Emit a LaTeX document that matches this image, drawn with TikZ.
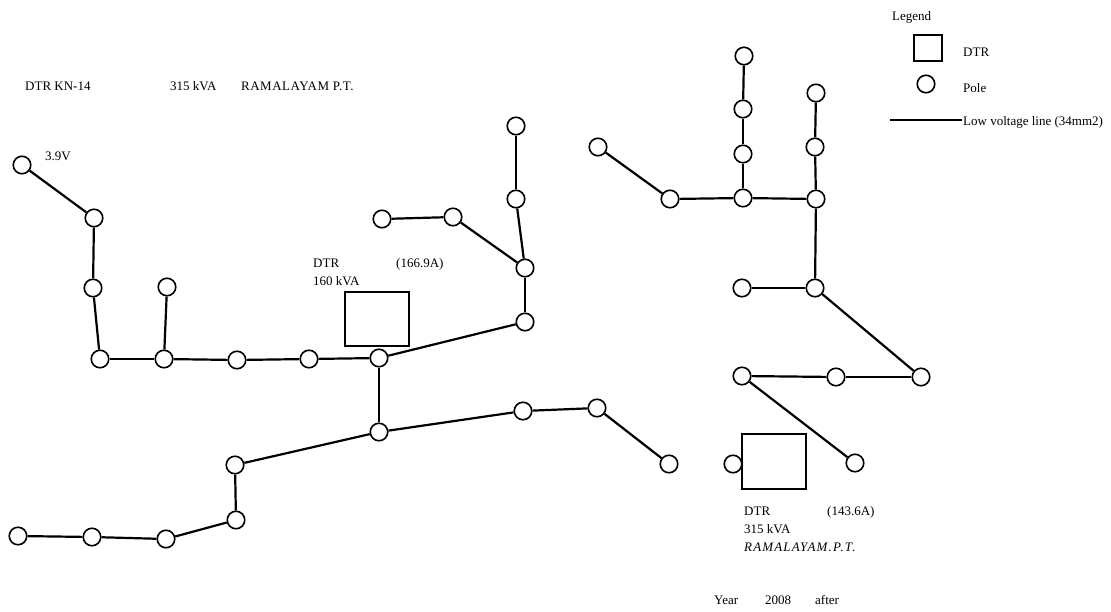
\documentclass[tikz,border=0pt]{standalone}
\usepackage{fontspec}
\setmainfont{Liberation Serif}
\usetikzlibrary{positioning}

\begin{document}
\begin{tikzpicture}[
        x=1pt, y=-1pt,
        pole/.style={
            circle,
            draw=black,
            fill=white,
            line width=1.6pt,
            inner sep=0pt,
            minimum size=17.5pt
        },
        dtrbox/.style={
            rectangle,
            draw=black,
            line width=1.6pt,
            inner sep=0pt,
            minimum width=64pt,
            minimum height=54pt
        },
        label/.style={
            anchor=base west,
            inner sep=0pt,
            font=\fontsize{13}{15}\selectfont
        },
        lvline/.style={line width=2.2pt, draw=black}
    ]
    \useasboundingbox (0,0) rectangle (1111,611);

    % transformers
    \node (dtrA) [dtrbox] at (377,319) {};
    \node (dtrB) [dtrbox, minimum height=55pt] at (774,461.5) {};
    \node (legendbox) [dtrbox, minimum width=28pt, minimum height=26pt] at (928,48) {};

    % network on the left
    \node (a1) [pole] at (22,165) {};
    \node (a2) [pole] at (94,218) {};
    \node (a3) [pole] at (93,288) {};
    \node (a4) [pole] at (100,359) {};
    \node (a5) [pole] at (164,359) {};
    \node (a6) [pole] at (167,287) {};
    \node (a7) [pole] at (237,360) {};
    \node (a8) [pole] at (309,359) {};
    \node (a9) [pole] at (379,358) {};
    \node (a10) [pole] at (525,322) {};
    \node (a11) [pole] at (525,268) {};
    \node (a12) [pole] at (516,199) {};
    \node (a13) [pole] at (516,126) {};
    \node (a14) [pole] at (453,217) {};
    \node (a15) [pole] at (382,219) {};
    \node (a16) [pole] at (379,432) {};
    \node (a17) [pole] at (523,411) {};
    \node (a18) [pole] at (597,408) {};
    \node (a19) [pole] at (669,464) {};
    \node (a20) [pole] at (235,465) {};
    \node (a21) [pole] at (236,520) {};
    \node (a22) [pole] at (166,539) {};
    \node (a23) [pole] at (92,537) {};
    \node (a24) [pole] at (18,536) {};

    % network on the right
    \node (b1) [pole] at (598,147) {};
    \node (b2) [pole] at (670,199) {};
    \node (b3) [pole] at (743,198) {};
    \node (b4) [pole] at (743,154) {};
    \node (b5) [pole] at (743,109) {};
    \node (b6) [pole] at (744,56) {};
    \node (b7) [pole] at (816,199) {};
    \node (b8) [pole] at (815,147) {};
    \node (b9) [pole] at (816,93) {};
    \node (b10) [pole] at (815,288) {};
    \node (b11) [pole] at (742,288) {};
    \node (b12) [pole] at (921,377) {};
    \node (b13) [pole] at (836,377) {};
    \node (b14) [pole] at (742,376) {};
    \node (b15) [pole] at (855,463) {};
    \node (b16) [pole] at (733,464) {};

    \draw [lvline] (a1) -- (a2);
    \draw [lvline] (a2) -- (a3);
    \draw [lvline] (a3) -- (a4);
    \draw [lvline] (a4) -- (a5);
    \draw [lvline] (a5) -- (a6);
    \draw [lvline] (a5) -- (a7);
    \draw [lvline] (a7) -- (a8);
    \draw [lvline] (a8) -- (a9);
    \draw [lvline] (a9) -- (a10);
    \draw [lvline] (a10) -- (a11);
    \draw [lvline] (a11) -- (a12);
    \draw [lvline] (a12) -- (a13);
    \draw [lvline] (a11) -- (a14);
    \draw [lvline] (a14) -- (a15);
    \draw [lvline] (a9) -- (a16);
    \draw [lvline] (a16) -- (a17);
    \draw [lvline] (a17) -- (a18);
    \draw [lvline] (a18) -- (a19);
    \draw [lvline] (a16) -- (a20);
    \draw [lvline] (a20) -- (a21);
    \draw [lvline] (a21) -- (a22);
    \draw [lvline] (a22) -- (a23);
    \draw [lvline] (a23) -- (a24);

    \draw [lvline] (b1) -- (b2);
    \draw [lvline] (b2) -- (b3);
    \draw [lvline] (b3) -- (b4);
    \draw [lvline] (b4) -- (b5);
    \draw [lvline] (b5) -- (b6);
    \draw [lvline] (b3) -- (b7);
    \draw [lvline] (b7) -- (b8);
    \draw [lvline] (b8) -- (b9);
    \draw [lvline] (b7) -- (b10);
    \draw [lvline] (b10) -- (b11);
    \draw [lvline] (b10) -- (b12);
    \draw [lvline] (b12) -- (b13);
    \draw [lvline] (b13) -- (b14);
    \draw [lvline] (b14) -- (b15);

    % texts
    \node (title) [label] at (25,90) {DTR KN-14};
    \node (titlekva) [label] at (170,90) {315 kVA};
    \node (titlename) [label] at (241,90) {\addfontfeature{LetterSpace=3.8}RAMALAYAM P.T.};
    \node (volt) [label] at (45,160) {3.9V};
    \node (dtrAname) [label] at (313,267) {DTR};
    \node (dtrAamp) [label] at (396,267) {(166.9A)};
    \node (dtrAkva) [label] at (313,285) {160 kVA};
    \node (dtrBname) [label] at (744,515) {DTR};
    \node (dtrBamp) [label] at (827,515) {(143.6A)};
    \node (dtrBkva) [label] at (744,533) {315 kVA};
    \node (dtrBsite) [label] at (744,551) {\itshape\addfontfeature{LetterSpace=8.8}RAMALAYAM.P.T.};
    \node (year) [label] at (714,604) {Year};
    \node (yearnum) [label] at (765,604) {2008};
    \node (yearnote) [label] at (815,604) {after};

    % legend
    \node (legendtitle) [label] at (892,20) {Legend};
    \node (legenddtr) [label] at (963,56) {DTR};
    \node (legendpole) [pole] at (926,84) {};
    \node (legendpolename) [label] at (963,92) {Pole};
    \coordinate (linestart) at (890,120);
    \coordinate (lineend) at (962,120);
    \node (legendline) [label] at (963,125) {Low voltage line (34mm2)};
    \draw [lvline] (linestart) -- (lineend);
\end{tikzpicture}
\end{document}
